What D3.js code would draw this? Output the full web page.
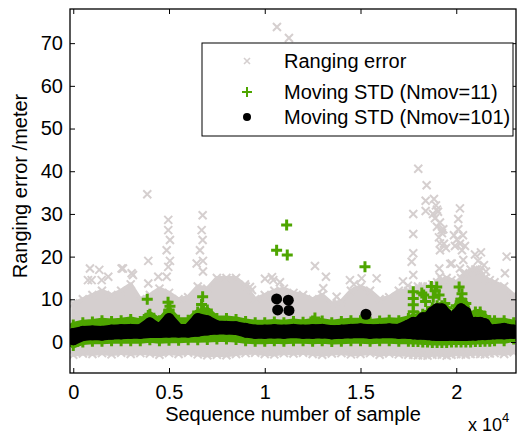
<!DOCTYPE html>
<html>
<head>
<meta charset="utf-8">
<script src="https://cdnjs.cloudflare.com/ajax/libs/d3/7.8.5/d3.min.js"></script>
<style>
  body { margin: 0; background: #fff; }
  svg { display: block; font-family: "Liberation Sans", Arial, sans-serif; }
</style>
</head>
<body>
<div id="chart"></div>
<script>
// SVG area and axes box
var svgWidth = 518;
var svgHeight = 436;
var plot = {left: 70, right: 516, top: 9, bottom: 373};

var samples = [0, 500, 1000, 1500, 2000, 2500, 3000, 3500, 4000, 4500, 5000, 5500,
  6000, 6500, 7000, 7500, 8000, 8500, 9000, 9500, 10000, 10500, 11000, 11500,
  12000, 12500, 13000, 13500, 14000, 14500, 15000, 15500, 16000, 16500, 17000,
  17500, 17750, 18000, 18250, 18500, 18750, 19000, 19250, 19500, 19750, 20000,
  20250, 20500, 20750, 21000, 21250, 21500, 21750, 22000, 22500, 23000];

// ranging error cloud: top and bottom of the dense part
var greyHi = [9, 10, 11, 12, 11, 12, 13.5, 10, 11, 12.5, 11.5, 10, 10.5, 13, 12.5, 15,
  15, 15, 13, 10, 11, 12, 12.5, 11.5, 11, 10, 11, 9, 9.5, 12, 13, 12, 10, 10.5, 12,
  12, 12.5, 13, 13, 13, 13.5, 14, 14.5, 15, 14.5, 14, 15, 16, 17, 17, 16.5, 15, 14.5, 14,
  13, 11];
var greyLo = [-3.0, -2.7, -2.8, -2.6, -2.9, -2.5, -2.8, -2.6, -2.7, -3.0, -2.6, -2.8,
  -2.5, -2.9, -3.1, -3.0, -3.1, -2.8, -2.6, -2.5, -2.8, -2.9, -2.6, -2.7, -2.5, -2.8,
  -3.0, -2.7, -2.6, -2.9, -2.8, -2.6, -3.0, -2.7, -2.9,
  -3.0, -3.0, -3.1, -3.1, -3.2, -3.0, -2.9, -3.0, -3.2, -3.0, -2.8, -2.9, -3.0, -2.8,
  -2.7, -2.8, -2.9, -2.7, -2.6, -2.8, -2.4];

// isolated ranging errors above the cloud
var greyOutS = [10637, 11264, 3864, 3917, 3917, 4961, 4961, 5050, 4877, 5050, 4961, 4877,
  6757, 6705, 6757, 6616, 6773, 6444, 6773, 872, 1358, 1483, 961, 1828, 2527, 3050,
  4439, 9227, 10444, 12622, 13196, 13055, 13755, 15060, 15843, 17755, 17755, 17755,
  17671, 17755, 18016, 18455, 18402, 18402, 18836, 18940, 19045, 18888, 19150, 18993,
  19254, 19097, 19358, 19237, 19463, 19150, 19322, 19150, 18993, 18784, 20193, 20105,
  20105, 19880, 20037, 20193, 20350, 20455, 19932, 20298, 20366, 19688, 20193, 20366,
  19113, 19150, 20977, 21134, 21290, 21447, 21082, 21552, 21238, 22632, 22543, 14449,
  14658, 17217, 17478, 8966, 9332, 10011, 10377, 10794, 768, 3118, 2595, 19760];
var greyOutV = [73.8, 71.2, 34.6, 19.0, 13.7, 28.6, 26.2, 23.9, 21.5, 19.0, 17.6, 15.3,
  29.7, 26.2, 23.9, 21.5, 19.0, 18.4, 16.5, 17.2, 16.9, 14.5, 14.5, 15.3, 17.2, 16.1,
  15.3, 12.9, 14.5, 17.8, 15.3, 12.6, 10.6, 14.9, 14.9, 30.0, 25.3, 20.8,
  18.8, 15.7, 40.6, 36.7, 33.1, 30.7, 33.5, 32.0, 30.5, 29.0, 28.0, 27.0,
  25.5, 24.5, 23.0, 26.2, 22.0, 21.5, 26.4, 23.1, 31.0, 30.0, 31.3, 28.8,
  26.4, 25.0, 24.0, 23.0, 25.0, 22.5, 22.5, 21.5, 19.2, 18.3, 17.2, 16.1,
  17.2, 15.3, 20.5, 19.0, 21.0, 18.0, 17.0, 16.5, 16.9, 20.0, 16.1, 14.5,
  13.5, 14.2, 13.2, 13.5, 12.2, 14.8, 15.2, 14.0, 14.5, 15.7, 17.2, 18.4];

// moving STD, Nmov = 11: band edges
var greenHi = [4.0, 4.5, 4.7, 5.0, 4.8, 5.0, 5.3, 4.8, 6.5, 5.0, 7.5, 5.1, 5.1, 7.0, 7.5,
  5.5, 5.5, 5.3, 4.8, 4.5, 4.5, 4.7, 4.5, 4.8, 4.6, 4.9, 4.9, 4.5, 4.8, 5.0, 5.0, 4.7,
  4.9, 5.1, 5.0,
  5.5, 6.0, 6.0, 6.5, 7.0, 8.0, 8.5, 8.5, 8.0, 5.5, 8.5, 10.0, 9.0, 5.5, 7.0, 7.0, 6.0,
  5.0, 5.0, 5.0, 4.5];
var greenLo = [-0.8, 0.0, 0.2, 0.2, 0.3, 0.3, 0.3, 0.3, 0.5, 0.3, 0.4, 0.4, 0.5, 0.5, 0.6,
  0.7, 0.7, 0.6, 0.3, 0.2, 0.2, 0.3, 0.2, 0.3, 0.3, 0.2, 0.3, 0.1, 0.2, 0.3, 0.3, 0.2,
  0.3, 0.3, 0.2,
  0.2, 0.1, 0.1, 0.0, 0.0, -0.1, -0.1, -0.1, -0.1, 0.0, 0.0, 0.0, 0.0, 0.0, 0.1, 0.1,
  0.2, 0.2, 0.3, 0.3, 0.7];
var greenOutS = [3864, 3917, 4950, 5050, 4990, 6757, 6700, 6800, 10620, 11143, 11175, 15233,
  12620, 17755, 17755, 17755, 17755, 18200, 18300, 18400, 18700, 18900, 19100, 18800,
  18980, 20150, 20300, 20250, 19400];
var greenOutV = [10.0, 6.2, 9.3, 8.4, 7.3, 10.6, 8.8, 7.5, 21.5, 27.4, 20.4, 17.6,
  5.6, 11.8, 10.2, 8.7, 7.1, 11.5, 11.0, 9.5, 13.0, 12.0, 11.0, 10.5,
  12.9, 12.9, 11.3, 10.0, 9.0];

// moving STD, Nmov = 101: band edges
var blackHi = [2.0, 2.5, 2.6, 2.5, 2.8, 2.9, 3.0, 2.9, 4.5, 3.0, 5.5, 3.0, 3.0, 5.5, 5.0,
  3.8, 3.7, 3.6, 3.2, 2.8, 2.8, 2.9, 2.8, 3.0, 2.8, 2.9, 3.0, 2.7, 2.8, 3.0, 3.1, 2.9,
  3.0, 3.1, 3.0,
  4.0, 4.6, 4.6, 5.7, 5.7, 7.0, 7.8, 7.8, 6.5, 3.9, 6.5, 7.8, 7.0, 3.9, 4.6, 4.6, 4.3,
  2.8, 2.9, 3.2, 2.8];
var blackLo = [0.5, 1.5, 1.7, 1.6, 1.8, 1.9, 2.0, 2.0, 2.2, 2.2, 2.3, 2.3, 2.3, 2.5, 2.8,
  3.0, 3.0, 2.9, 2.3, 2.0, 2.0, 2.1, 2.0, 2.2, 2.0, 2.0, 2.1, 1.9, 2.0, 2.1, 2.2, 2.0,
  2.1, 2.2, 2.0,
  2.0, 1.9, 1.8, 1.8, 1.7, 1.6, 1.5, 1.5, 1.5, 1.6, 1.5, 1.5, 1.5, 1.6, 1.6, 1.7, 1.7,
  1.8, 1.9, 1.9, 2.0];
var blackOutS = [10620, 11230, 10674, 11264, 15285];
var blackOutV = [10.1, 9.8, 7.5, 7.4, 6.5];

// ticks
var xTicks = [0, 5000, 10000, 15000, 20000];
var xTickLabels = ["0", "0.5", "1", "1.5", "2"];
var yTicks = [0, 10, 20, 30, 40, 50, 60, 70];

var legendLabels = ["Ranging error", "Moving STD (Nmov=11)", "Moving STD (Nmov=101)"];

var greyColor = "#d5cfcf";
var greenColor = "#4ea500";

var svg = d3.select("#chart")
  .append("svg")
  .attr("width", svgWidth)
  .attr("height", svgHeight);

var xScale = d3.scaleLinear().domain([-170, 23120]).range([plot.left, plot.right]);
var yScale = d3.scaleLinear().domain([-7.26, 78]).range([plot.bottom, plot.top]);

svg.append("clipPath").attr("id", "clip")
  .append("rect")
  .attr("x", plot.left).attr("y", plot.top)
  .attr("width", plot.right - plot.left)
  .attr("height", plot.bottom - plot.top);

var chartGroup = svg.append("g").attr("clip-path", "url(#clip)");

// marker shapes
function crossPath(size) {
  var h = size / 2;
  return `M${-h},${-h}L${h},${h}M${-h},${h}L${h},${-h}`;
}
function plusPath(size) {
  var h = size / 2;
  return `M${-h},0L${h},0M0,${-h}L0,${h}`;
}

function bandRows(hi, lo) {
  return samples.map((s, i) => ({s: s, hi: hi[i], lo: lo[i]}));
}
function pointRows(sArr, vArr) {
  return sArr.map((s, i) => ({s: s, v: vArr[i]}));
}
function edgePoints(rows) {
  var pts = [];
  rows.forEach(function(d) {
    pts.push({s: d.s, v: d.hi});
    pts.push({s: d.s, v: d.lo});
  });
  return pts;
}

var bandArea = d3.area()
  .x(d => xScale(d.s))
  .y0(d => yScale(d.lo))
  .y1(d => yScale(d.hi));

function drawBand(rows, color, strokeW) {
  chartGroup.append("path")
    .datum(rows)
    .attr("d", bandArea)
    .attr("fill", color)
    .attr("stroke", color)
    .attr("stroke-width", strokeW)
    .attr("stroke-linejoin", "round");
}

function drawMarkers(points, shape, size, color, width) {
  chartGroup.append("g")
    .selectAll("path")
    .data(points)
    .enter()
    .append("path")
    .attr("transform", d => `translate(${xScale(d.s)},${yScale(d.v)})`)
    .attr("d", shape(size))
    .attr("stroke", color)
    .attr("stroke-width", width)
    .attr("fill", "none");
}

// grey: ranging error
var greyRows = bandRows(greyHi, greyLo);
drawBand(greyRows, greyColor, 4);
drawMarkers(edgePoints(greyRows), crossPath, 8, greyColor, 2);
drawMarkers(pointRows(greyOutS, greyOutV), crossPath, 8, greyColor, 2);

// green: Nmov=11
var greenRows = bandRows(greenHi, greenLo);
drawBand(greenRows, greenColor, 6);
drawMarkers(edgePoints(greenRows), plusPath, 11, greenColor, 3);
drawMarkers(pointRows(greenOutS, greenOutV), plusPath, 11, greenColor, 3);

// black: Nmov=101
var blackRows = bandRows(blackHi, blackLo);
drawBand(blackRows, "#000", 10.6);
chartGroup.append("g")
  .selectAll("circle")
  .data(edgePoints(blackRows).concat(pointRows(blackOutS, blackOutV)))
  .enter()
  .append("circle")
  .attr("cx", d => xScale(d.s))
  .attr("cy", d => yScale(d.v))
  .attr("r", 5.5)
  .attr("fill", "#000");

// axes, ticks pointing inward
var bottomAxis = d3.axisBottom(xScale).tickValues(xTicks)
  .tickFormat((d, i) => xTickLabels[i]).tickSizeInner(-5).tickSizeOuter(0).tickPadding(12);
var topAxis = d3.axisTop(xScale).tickValues(xTicks).tickFormat("").tickSizeInner(-5).tickSizeOuter(0);
var leftAxis = d3.axisLeft(yScale).tickValues(yTicks).tickSizeInner(-5).tickSizeOuter(0).tickPadding(7);
var rightAxis = d3.axisRight(yScale).tickValues(yTicks).tickFormat("").tickSizeInner(-5).tickSizeOuter(0);

function styleAxis(g) {
  g.select(".domain").remove();
  g.selectAll("line").attr("stroke", "#000").attr("stroke-width", 1);
  g.selectAll("text").attr("font-size", 20).attr("fill", "#000")
    .attr("font-family", "Liberation Sans, Arial, sans-serif");
}

svg.append("g").attr("transform", `translate(0,${plot.bottom})`).call(bottomAxis).call(styleAxis);
svg.append("g").attr("transform", `translate(0,${plot.top})`).call(topAxis).call(styleAxis);
svg.append("g").attr("transform", `translate(${plot.left},0)`).call(leftAxis).call(styleAxis);
svg.append("g").attr("transform", `translate(${plot.right},0)`).call(rightAxis).call(styleAxis);

svg.append("rect")
  .attr("x", plot.left).attr("y", plot.top)
  .attr("width", plot.right - plot.left)
  .attr("height", plot.bottom - plot.top)
  .attr("fill", "none")
  .attr("stroke", "#000")
  .attr("stroke-width", 1.3);

// axis labels
svg.append("text")
  .attr("x", 293).attr("y", 421)
  .attr("text-anchor", "middle")
  .attr("font-size", 20)
  .text("Sequence number of sample");

svg.append("text")
  .attr("transform", "translate(27,186) rotate(-90)")
  .attr("text-anchor", "middle")
  .attr("font-size", 20)
  .text("Ranging error /meter");

// exponent note under the right end of the x axis
var expText = svg.append("text").attr("x", 468).attr("y", 431).attr("font-size", 18);
expText.append("tspan").text("x 10");
expText.append("tspan").attr("font-size", 13).attr("dy", -9).text("4");

// legend
var legend = svg.append("g");
legend.append("rect")
  .attr("x", 202).attr("y", 43)
  .attr("width", 311).attr("height", 93)
  .attr("fill", "#fff")
  .attr("stroke", "#000")
  .attr("stroke-width", 1);

var legendY = [61, 92, 117];
legend.append("path")
  .attr("transform", `translate(247,${legendY[0]})`)
  .attr("d", crossPath(6)).attr("stroke", greyColor).attr("stroke-width", 1.6);
legend.append("path")
  .attr("transform", `translate(247,${legendY[1]})`)
  .attr("d", plusPath(10)).attr("stroke", greenColor).attr("stroke-width", 2);
legend.append("circle")
  .attr("cx", 247).attr("cy", legendY[2]).attr("r", 4).attr("fill", "#000");

legend.selectAll("text.leg")
  .data(legendLabels)
  .enter()
  .append("text")
  .attr("class", "leg")
  .attr("x", 284)
  .attr("y", (d, i) => legendY[i] + 7)
  .attr("font-size", 20)
  .text(d => d);
</script>
</body>
</html>
